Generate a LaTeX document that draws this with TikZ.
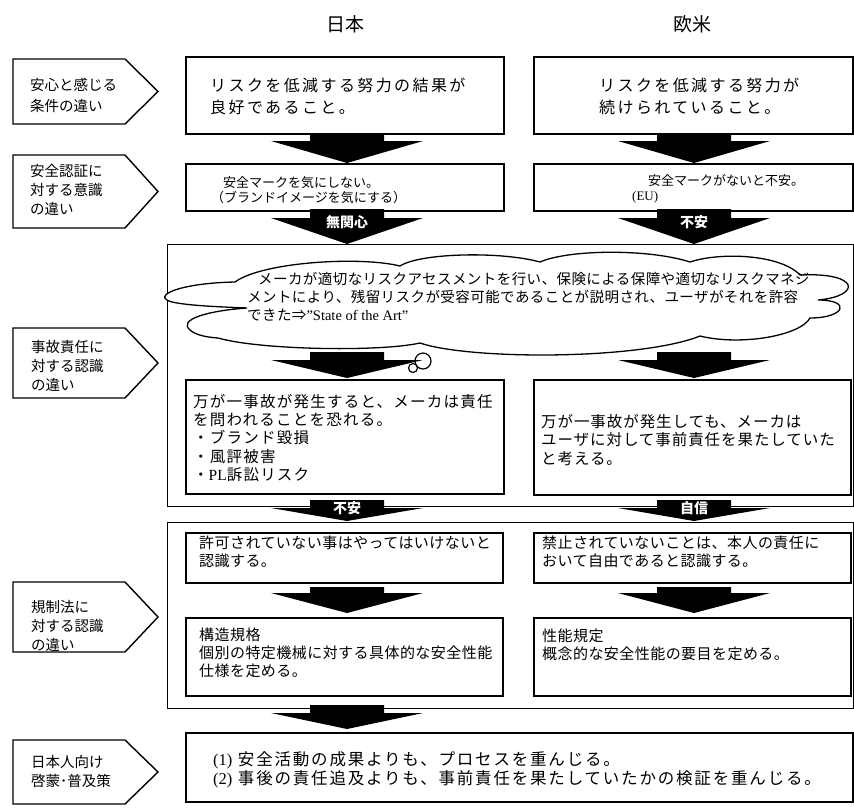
\documentclass[tikz,border=0pt]{standalone}
\usepackage{fontspec}
\setmainfont{Noto Sans CJK JP}
\newfontfamily\lat{Liberation Serif}
\tikzset{
  bx/.style={draw, line width=1.6pt, inner sep=0pt, anchor=north west, fill=white},
  big/.style={draw, line width=1.4pt, inner sep=0pt, anchor=north west},
  pent/.style={draw, line width=1.4pt, line join=miter},
  cloudline/.style={draw, fill=white, line width=1.3pt},
  tx/.style={inner sep=0pt, anchor=west, align=left},
  hd/.style={inner sep=0pt, font=\fontsize{19}{19}\selectfont},
  plab/.style={tx, font=\fontsize{14.5}{19}\selectfont},
  alab/.style={inner sep=0pt, text=white, font=\fontsize{14}{14}\selectfont\bfseries},
}
\newcommand\rbox[6][bx]{\node[#1, minimum width=#5pt-#3pt, minimum height=#6pt-#4pt] (#2) at (#3,#4) {};}
\newcommand\pentagon[3]{\draw[pent] (13,#2) -- (125,#2) -- (158,{(#2+#3)/2}) -- (125,#3) -- (13,#3) -- cycle;
  \coordinate (#1) at (158,{(#2+#3)/2});}
\newcommand\barrow[4]{\fill (#1-37,#2) -- (#1+37,#2) -- (#1+37,#3) -- (#1+76,#3) -- (#1,#4) -- (#1-76,#3) -- (#1-37,#3) -- cycle;}
\begin{document}
\begin{tikzpicture}[x=1pt,y=-1pt]
\useasboundingbox (0,0) rectangle (854,807);
% headers
\node[hd] (hj) at (345,24) {日本};
\node[hd] (he) at (692,24) {欧米};
% big frames
\rbox[big]{frameA}{167}{244}{853}{506}
\rbox[big]{frameB}{167}{522}{853}{708}
% cloud
\path[cloudline] (235,282)
  .. controls (180,283) and (150,296) .. (172,302)
  .. controls (190,306) and (225,307) .. (247,308)
  .. controls (205,311) and (178,320) .. (190,330)
  .. controls (196,335) and (205,337) .. (218,338)
  .. controls (260,350) and (380,352) .. (420,343)
  .. controls (470,360) and (640,360) .. (700,336)
  .. controls (740,346) and (800,336) .. (810,318)
  .. controls (845,318) and (852,300) .. (818,300)
  .. controls (862,296) and (860,272) .. (800,275)
  .. controls (780,254) and (720,252) .. (690,262)
  .. controls (650,249) and (570,249) .. (540,262)
  .. controls (500,251) and (420,253) .. (400,266)
  .. controls (360,256) and (262,262) .. (235,282) -- cycle;
\coordinate (cloud) at (510,302);
% pentagons
\pentagon{p1}{59}{124}
\pentagon{p2}{155}{228}
\pentagon{p3}{328}{398}
\pentagon{p4}{582}{652}
\pentagon{p5}{740}{804}
% boxes
\rbox{j1}{185}{56}{503}{133}
\rbox{e1}{533}{56}{852}{133}
\rbox{j2}{185}{163}{503}{210}
\rbox{e2}{533}{163}{852}{210}
\rbox{j3}{185}{379}{503}{493}
\rbox{e3}{533}{379}{850}{494}
\rbox{j4}{185}{532}{502}{582}
\rbox{e4}{533}{532}{850}{582}
\rbox{j5}{185}{617}{502}{695}
\rbox{e5}{533}{617}{850}{695}
\rbox{b6}{185}{732}{852}{801}
% arrows
\barrow{347}{134}{141}{163}
\barrow{694}{134}{141}{163}
\barrow{347}{209}{218}{244}
\barrow{694}{209}{218}{244}
\barrow{347}{352}{360}{378}
\barrow{694}{352}{360}{378}
\barrow{347}{500}{508}{521}
\barrow{694}{500}{508}{521}
\barrow{347}{587}{593}{613}
\barrow{694}{587}{593}{613}
\barrow{347}{705}{713}{729}
\node[alab] (l1) at (347,222) {無関心};
\node[alab] (l2) at (694,222) {不安};
\node[alab] (l3) at (347,508) {不安};
\node[alab] (l4) at (694,508) {自信};
% thought circles
\draw[line width=1.2pt] (423,361) circle (8);
\draw[line width=1.2pt] (413,368) circle (4.5);
% pentagon labels
\node[plab, font=\fontsize{14.5}{21}\selectfont] (t1) at (30,95) {安心と感じる\\条件の違い};
\node[plab] (t2) at (30,190) {安全認証に\\対する意識\\の違い};
\node[plab] (t3) at (31,366) {事故責任に\\対する認識\\の違い};
\node[plab] (t4) at (31,626) {規制法に\\対する認識\\の違い};
\node[plab] (t5) at (31,771) {日本人向け\\啓蒙･普及策};
% box texts
\node[tx, font=\fontsize{16}{22}\selectfont\addfontfeature{LetterSpace=15}] (tj1) at (210,96) {リスクを低減する努力の結果が\\良好であること。};
\node[tx, font=\fontsize{16}{22}\selectfont\addfontfeature{LetterSpace=15}] (te1) at (599,96) {リスクを低減する努力が\\続けられていること。};
\node[tx, font=\fontsize{13}{15.5}\selectfont] (tj2) at (211,190) {\hspace*{12pt}安全マークを気にしない。\\（ブランドイメージを気にする）};
\node[tx, font=\fontsize{13}{15.5}\selectfont] (te2) at (632,189) {\hspace*{16pt}安全マークがないと不安。\\{\lat (EU)}};
\node[tx, font=\fontsize{14.5}{18}\selectfont\addfontfeature{LetterSpace=3}] (tc) at (247,297) {\hspace*{11pt}メーカが適切なリスクアセスメントを行い、保険による保障や適切なリスクマネジ\\メントにより、残留リスクが受容可能であることが説明され、ユーザがそれを許容\\できた⇒{\lat ”State of the Art”}};
\node[tx, font=\fontsize{15.5}{18.3}\selectfont\addfontfeature{LetterSpace=8}] (tj3) at (193,438) {万が一事故が発生すると、メーカは責任\\を問われることを恐れる。\\・ブランド毀損\\・風評被害\\・{\lat PL}訴訟リスク};
\node[tx, font=\fontsize{15.5}{18.3}\selectfont\addfontfeature{LetterSpace=6}] (te3) at (541,440) {万が一事故が発生しても、メーカは\\ユーザに対して事前責任を果たしていた\\と考える。};
\node[tx, font=\fontsize{15}{18}\selectfont\addfontfeature{LetterSpace=3}] (tj4) at (199,552) {許可されていない事はやってはいけないと\\認識する。};
\node[tx, font=\fontsize{15}{18}\selectfont\addfontfeature{LetterSpace=3}] (te4) at (542,552) {禁止されていないことは、本人の責任に\\おいて自由であると認識する。};
\node[tx, font=\fontsize{15}{18}\selectfont\addfontfeature{LetterSpace=3}] (tj5) at (199,653) {構造規格\\個別の特定機械に対する具体的な安全性能\\仕様を定める。};
\node[tx, font=\fontsize{15}{18}\selectfont\addfontfeature{LetterSpace=3}] (te5) at (542,645) {性能規定\\概念的な安全性能の要目を定める。};
\node[tx, font=\fontsize{16.5}{17}\selectfont\addfontfeature{LetterSpace=11}] (tb6) at (213,770) {{\lat (1)} 安全活動の成果よりも、プロセスを重んじる。\\{\lat (2)} 事後の責任追及よりも、事前責任を果たしていたかの検証を重んじる。};
\end{tikzpicture}
\end{document}
